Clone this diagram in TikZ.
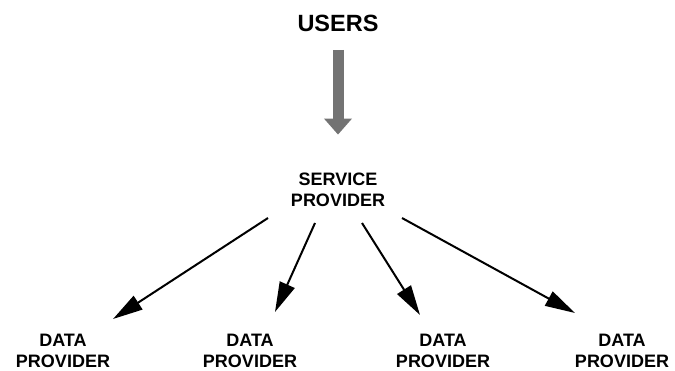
\documentclass[tikz,border=0pt]{standalone}
\usepackage{fontspec}
\setmainfont{Liberation Sans}
\usetikzlibrary{arrows.meta}

\tikzset{
    big/.style={font=\fontsize{23.5}{27}\selectfont\bfseries},
    party/.style={font=\fontsize{18}{21}\selectfont\bfseries, align=center},
    link/.style={line width=2pt, -{Triangle[length=30pt, width=16pt]}},
    flow/.style={line width=11pt, draw=black!55, -{Triangle[length=16pt, width=27pt]}}
}

\begin{document}
\begin{tikzpicture}[x=1pt, y=1pt]
            \useasboundingbox (0,0) rectangle (675,370);
            % Top of the chain
            \node[big] (users) at (338,347) {USERS};
            \node[party] (sp) at (338,180) {SERVICE\\PROVIDER};
            \draw[flow, shorten <=15pt, shorten >=35pt] (users) -- (sp);
            % Data providers
            \foreach \i/\x in {1/63, 2/250, 3/443, 4/622} {
                \node[party] (dp\i) at (\x,19.5) {DATA\\PROVIDER};
            }
            % Requests going down
            \foreach \i/\sx/\sy/\tx/\ty in {1/-70/-28/50/31.5, 2/-23/-33/25/38.5, 3/24/-33/-23/35.5, 4/64/-28/-47/37.5} {
                \draw[link] ([shift={(\sx,\sy)}]sp.center) -- ([shift={(\tx,\ty)}]dp\i.center);
            }
        \end{tikzpicture}
\end{document}
